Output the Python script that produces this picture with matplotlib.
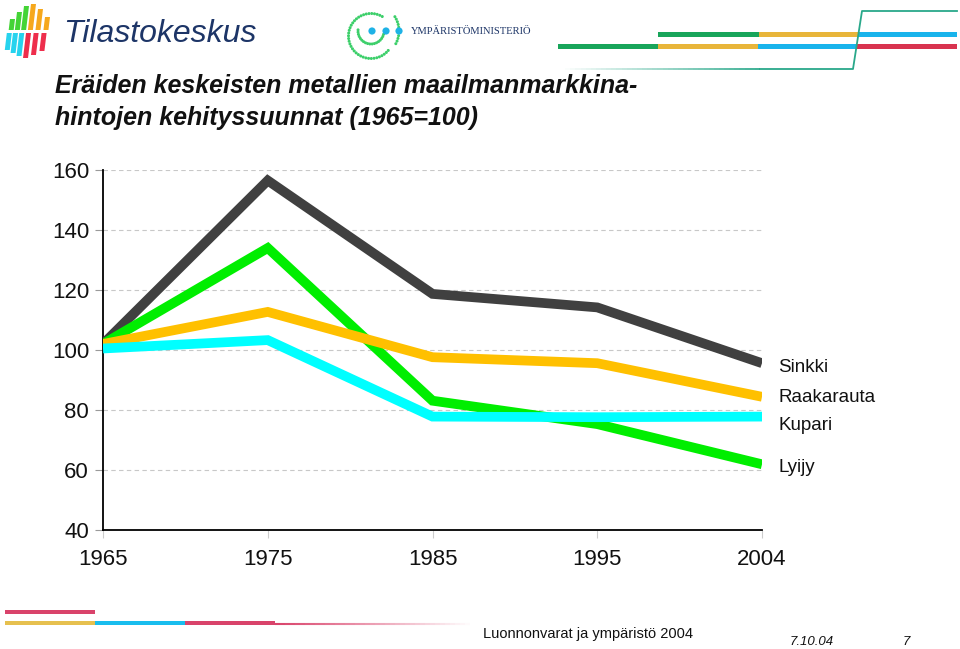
import matplotlib
matplotlib.use("Agg")
import matplotlib.pyplot as plt
from matplotlib.patches import Polygon, Circle, Rectangle
import numpy as np

plt.rcParams['font.family'] = ['Liberation Sans', 'DejaVu Sans']

years = ["1965", "1975", "1985", "1995", "2004"]
sinkki = [102.0, 156.5, 118.7, 114.2, 95.6]
lyijy = [102.0, 134.0, 83.1, 75.3, 61.9]
raakarauta = [102.0, 112.7, 97.6, 95.6, 84.4]
kupari = [100.5, 103.3, 77.8, 77.6, 77.8]
series_names = ["Sinkki", "Lyijy", "Raakarauta", "Kupari"]
series_colors = ["#404040", "#00ee00", "#ffc000", "#00ffff"]
label_values = {"Sinkki": 94.3, "Raakarauta": 84.0, "Kupari": 75.0, "Lyijy": 60.7}
yticks = [40, 60, 80, 100, 120, 140, 160]

W, H = 960, 649
fig = plt.figure(figsize=(W / 100, H / 100), dpi=100)

# overlay axes in pixel coordinates for decorations
deco = fig.add_axes([0, 0, 1, 1], zorder=0)
deco.set_xlim(0, W)
deco.set_ylim(H, 0)
deco.axis("off")

# --- Tilastokeskus logo ---
def para(x, ytop, ybot, w=5.0, slant=-0.12, color="k"):
    pts = [(x + slant * (ybot - ytop), ybot), (x + slant * (ybot - ytop) + w, ybot),
           (x + w, ytop), (x, ytop)]
    deco.add_patch(Polygon(pts, closed=True, color=color, lw=0))

cols = [(10, 19, 30, 33, 50), (17, 12, 30, 33, 53), (24, 6, 30, 33, 56),
        (31, 4, 30, 33, 58), (38, 9, 30, 33, 55), (45, 17, 30, 33, 51)]
for i, (x, t, m1, m2, b) in enumerate(cols):
    top_col = "#44d436" if i < 3 else "#f6a81c"
    bot_col = "#27d3ee" if i < 3 else "#ee2e4c"
    para(x, t, m1, color=top_col)
    para(x - 0.12 * (m2 - t) - 1.5, m2, b, color=bot_col)

deco.text(63, 34, "Tilastokeskus", fontsize=23, style="italic", color="#1d3567",
          va="center", ha="left")

# --- Ympäristöministeriö logo ---
def dotted_arc(cx, cy, r, a0, a1, n, size=1.5, color="#3ccf6a"):
    angs = np.linspace(np.radians(a0), np.radians(a1), n)
    for a in angs:
        deco.add_patch(Circle((cx + r * np.cos(a), cy - r * np.sin(a)), size, color=color, lw=0))

dotted_arc(371, 36, 22.5, 60, 320, 38)
dotted_arc(372, 31, 27, -28, 32, 11)
dotted_arc(371, 31, 13, 175, 345, 18)
for x in (372, 386, 399):
    deco.add_patch(Circle((x, 31), 3.6, color="#1eb2e6", lw=0))
deco.text(411, 32, "YMPÄRISTÖMINISTERIÖ", fontsize=7.6, family=["Liberation Serif", "DejaVu Serif"],
          color="#1d3567", va="center", ha="left")

# --- top right stripes ---
green, yellow, blue, red = "#18a55a", "#e8b53a", "#19b4ec", "#d8334f"
for (x0, x1, c) in [(658, 759, green), (759, 858, yellow), (858, 957, blue)]:
    deco.add_patch(Rectangle((x0, 32), x1 - x0, 4.5, color=c, lw=0))
for (x0, x1, c) in [(558, 658, green), (658, 758, yellow), (758, 857, blue), (857, 957, red)]:
    deco.add_patch(Rectangle((x0, 44), x1 - x0, 4.5, color=c, lw=0))
# thin teal line with fading start
teal = np.array([0.16, 0.66, 0.54])
xs = np.linspace(560, 760, 40)
for i in range(len(xs) - 1):
    a = i / (len(xs) - 1)
    c = 1 - a * (1 - teal)
    deco.plot([xs[i], xs[i + 1]], [69, 69], color=c, lw=1.3, solid_capstyle="butt")
deco.plot([760, 853, 862, 957], [69, 69, 11, 11], color=teal, lw=1.3)

# --- bottom left stripes ---
bred, byel, bblue = "#d9436b", "#e6c04f", "#19bdee"
deco.add_patch(Rectangle((5, 610), 90, 4, color=bred, lw=0))
for (x0, x1, c) in [(5, 95, byel), (95, 185, bblue), (185, 275, bred)]:
    deco.add_patch(Rectangle((x0, 621), x1 - x0, 4, color=c, lw=0))
rc = np.array(matplotlib.colors.to_rgb(bred))
xs = np.linspace(275, 470, 40)
for i in range(len(xs) - 1):
    a = i / (len(xs) - 1)
    c = rc + a * (1 - rc)
    deco.plot([xs[i], xs[i + 1]], [623.5, 623.5], color=c, lw=1.5, solid_capstyle="butt")

# --- title ---
deco.text(55, 86, "Eräiden keskeisten metallien maailmanmarkkina-", fontsize=18,
          weight="bold", style="italic", color="#111111", va="center", ha="left")
deco.text(55, 118, "hintojen kehityssuunnat (1965=100)", fontsize=18,
          weight="bold", style="italic", color="#111111", va="center", ha="left")

# --- footer ---
deco.text(483, 634, "Luonnonvarat ja ympäristö 2004", fontsize=10.5, color="#111111",
          va="center", ha="left")
deco.text(790, 642, "7.10.04", fontsize=9.5, style="italic", color="#111111",
          va="center", ha="left")
deco.text(903, 642, "7", fontsize=9.5, style="italic", color="#111111",
          va="center", ha="left")

# --- main chart ---
ax = fig.add_axes([103 / W, 1 - 530 / H, 659 / W, 360 / H], zorder=1)
ax.patch.set_alpha(0)
x = np.arange(len(years))
data = {"Sinkki": sinkki, "Lyijy": lyijy, "Raakarauta": raakarauta, "Kupari": kupari}
for z, (name, col) in enumerate(zip(series_names, series_colors)):
    ax.plot(x, data[name], color=col, lw=7, solid_joinstyle="miter",
            solid_capstyle="butt", zorder=3 + z)

for name, v in label_values.items():
    ax.text(x[-1] + 0.1, v, name, fontsize=13.5, color="#111111", va="center", ha="left",
            clip_on=False)

ax.set_xlim(0, len(years) - 1)
ax.set_ylim(40, 160)
ax.set_yticks(yticks)
ax.set_xticks(x)
ax.set_xticklabels(years)
for g in yticks[1:]:
    ax.axhline(g, color="#c8c8c8", lw=0.8, ls=(0, (4, 3)), zorder=1)
for s in ("top", "right"):
    ax.spines[s].set_visible(False)
ax.spines["left"].set_linewidth(1.3)
ax.spines["bottom"].set_linewidth(1.3)
ax.tick_params(axis="y", length=6, width=0.8, color="#999999", labelsize=16, pad=4,
               labelcolor="#111111")
ax.tick_params(axis="x", length=6, width=0.8, color="#cccccc", labelsize=16, pad=8,
               labelcolor="#111111")

fig.savefig("out.png", dpi=100)
